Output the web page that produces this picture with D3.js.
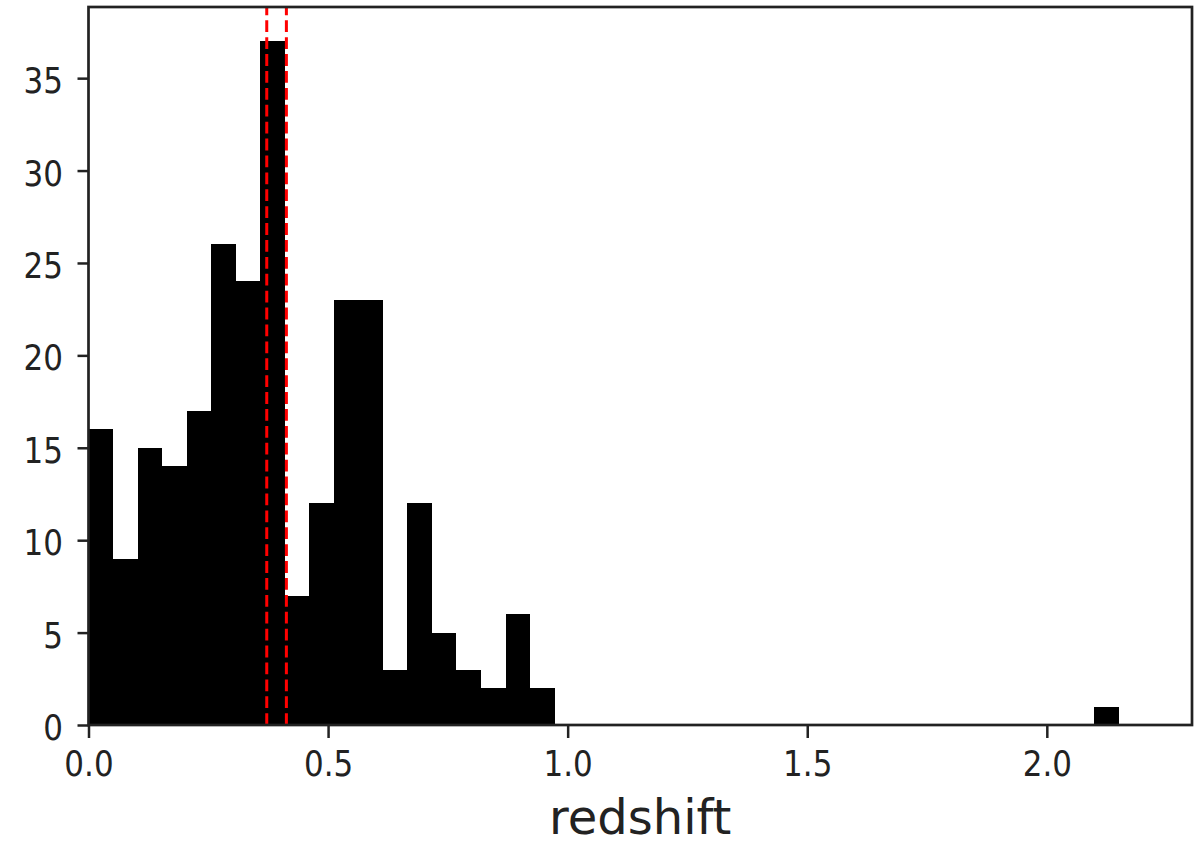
<!DOCTYPE html>
<html>
<head>
<meta charset="utf-8">
<script src="https://cdn.jsdelivr.net/npm/d3@7"></script>
<style>
  body { margin: 0; background: #fff; }
  svg { display: block; }
</style>
</head>
<body>
<svg id="chart"></svg>
<script>
// histogram counts, one per bin (42 bins of equal width starting at 0)
var counts = [16, 9, 15, 14, 17, 26, 24, 37, 7, 12, 23, 23, 3, 12, 5, 3, 2, 6, 2,
  0, 0, 0, 0, 0, 0, 0, 0, 0, 0, 0, 0, 0, 0, 0, 0, 0, 0, 0, 0, 0, 0, 1];
var binStart = 0.0;
var binWidth = 0.0512;
// dashed reference lines
var refLines = [0.372, 0.413];
var xTicks = [0.0, 0.5, 1.0, 1.5, 2.0];
var yTicks = [0, 5, 10, 15, 20, 25, 30, 35];
var xLabel = "redshift";

var W = 1200, H = 844;
var margin = {top: 7, right: 8, bottom: 119, left: 88.5};

var svg = d3.select("#chart")
  .attr("width", W)
  .attr("height", H);

var x = d3.scaleLinear()
  .domain([0, 2.303])
  .range([margin.left, W - margin.right]);

var y = d3.scaleLinear()
  .domain([0, 38.85])
  .range([H - margin.bottom, margin.top]);

var bins = counts.map(function(c, i) {
  return {x0: binStart + i * binWidth, x1: binStart + (i + 1) * binWidth, n: c};
});

// bars
svg.append("g")
  .selectAll("rect")
  .data(bins.filter(function(d) { return d.n > 0; }))
  .enter()
  .append("rect")
  .attr("x", function(d) { return x(d.x0); })
  .attr("width", function(d) { return x(d.x1) - x(d.x0); })
  .attr("y", function(d) { return y(d.n); })
  .attr("height", function(d) { return y(0) - y(d.n); })
  .attr("fill", "#000")
  .attr("shape-rendering", "crispEdges");

// red dashed lines (drawn from bottom up like axvline)
svg.append("g")
  .selectAll("line")
  .data(refLines)
  .enter()
  .append("line")
  .attr("x1", function(d) { return x(d); })
  .attr("x2", function(d) { return x(d); })
  .attr("y1", y.range()[0])
  .attr("y2", y.range()[1])
  .attr("stroke", "#ff0000")
  .attr("stroke-width", 3)
  .attr("stroke-dasharray", "11.8,5.1");

var ink = "#222";

// axes
var xAxis = svg.append("g")
  .attr("transform", "translate(0," + y(0) + ")")
  .call(d3.axisBottom(x).tickValues(xTicks).tickFormat(d3.format(".1f")).tickSize(13).tickSizeOuter(0));

var yAxis = svg.append("g")
  .attr("transform", "translate(" + x(0) + ",0)")
  .call(d3.axisLeft(y).tickValues(yTicks).tickFormat(d3.format("d")).tickSize(11).tickSizeOuter(0));

[xAxis, yAxis].forEach(function(a) {
  a.select(".domain").remove();
  a.selectAll(".tick line").attr("stroke", ink).attr("stroke-width", 2.5);
  a.selectAll(".tick text")
    .attr("fill", ink)
    .style("font-family", "'DejaVu Sans', sans-serif")
    .style("font-size", "31px")
    .attr("x", null).attr("y", null).attr("dy", null);
});

xAxis.selectAll(".tick text")
  .attr("text-anchor", "middle")
  .attr("transform", "translate(0,51) scale(1,1.15)");

yAxis.selectAll(".tick text")
  .attr("text-anchor", "end")
  .attr("transform", "translate(-25.5,14.5) scale(1,1.15)");

// frame
svg.append("rect")
  .attr("x", x.range()[0])
  .attr("y", y.range()[1])
  .attr("width", x.range()[1] - x.range()[0])
  .attr("height", y.range()[0] - y.range()[1])
  .attr("fill", "none")
  .attr("stroke", ink)
  .attr("stroke-width", 2.7);

// x label
svg.append("text")
  .attr("x", (x.range()[0] + x.range()[1]) / 2)
  .attr("y", 834)
  .attr("text-anchor", "middle")
  .attr("fill", ink)
  .style("font-family", "'DejaVu Sans', sans-serif")
  .style("font-size", "48px")
  .text(xLabel);
</script>
</body>
</html>
